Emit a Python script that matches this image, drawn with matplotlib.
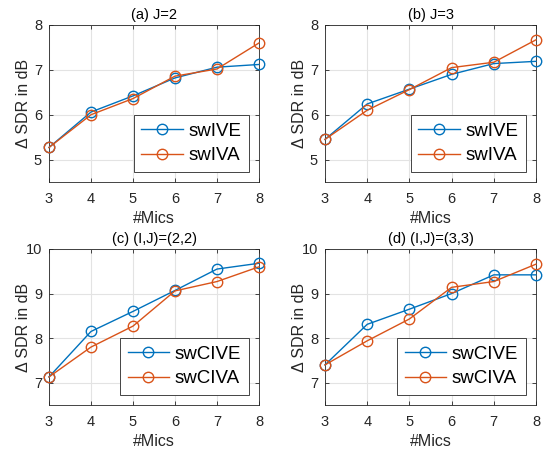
import matplotlib
matplotlib.use("Agg")
import matplotlib.pyplot as plt

plt.rcParams['font.family'] = ['Liberation Sans', 'DejaVu Sans']

mics = [3, 4, 5, 6, 7, 8]

# (a) J=2
a_swIVE = [5.27, 6.06, 6.42, 6.82, 7.06, 7.12]
a_swIVA = [5.27, 6.00, 6.36, 6.86, 7.02, 7.60]
# (b) J=3
b_swIVE = [5.45, 6.24, 6.57, 6.90, 7.14, 7.19]
b_swIVA = [5.45, 6.10, 6.56, 7.05, 7.17, 7.67]
# (c) (I,J)=(2,2)
c_swCIVE = [7.13, 8.15, 8.60, 9.07, 9.55, 9.68]
c_swCIVA = [7.13, 7.80, 8.27, 9.06, 9.27, 9.60]
# (d) (I,J)=(3,3)
d_swCIVE = [7.40, 8.31, 8.65, 9.00, 9.42, 9.42]
d_swCIVA = [7.40, 7.94, 8.43, 9.14, 9.27, 9.66]

panels = [
    ("(a) J=2", a_swIVE, a_swIVA, ["swIVE", "swIVA"], (4.5, 8), [5, 6, 7, 8]),
    ("(b) J=3", b_swIVE, b_swIVA, ["swIVE", "swIVA"], (4.5, 8), [5, 6, 7, 8]),
    ("(c) (I,J)=(2,2)", c_swCIVE, c_swCIVA, ["swCIVE", "swCIVA"], (6.5, 10), [7, 8, 9, 10]),
    ("(d) (I,J)=(3,3)", d_swCIVE, d_swCIVA, ["swCIVE", "swCIVA"], (6.5, 10), [7, 8, 9, 10]),
]

# axes boxes in pixels (left, top, right, bottom)
boxes = [(49, 25, 259, 182), (325, 25, 536, 182),
         (49, 249, 259, 405), (325, 249, 536, 405)]

W, H = 545, 451
fig = plt.figure(figsize=(W / 100, H / 100), dpi=100)

blue = '#0072BD'
orange = '#D95319'

for (title, y1, y2, labels, ylim, yticks), (l, t, r, b) in zip(panels, boxes):
    ax = fig.add_axes([l / W, 1 - b / H, (r - l) / W, (b - t) / H])
    ax.plot(mics, y1, '-o', color=blue, lw=1.0, ms=7.5, mfc='none', mew=1.0,
            label=labels[0], clip_on=False, zorder=3)
    ax.plot(mics, y2, '-o', color=orange, lw=1.0, ms=7.5, mfc='none', mew=1.0,
            label=labels[1], clip_on=False, zorder=3)
    ax.set_xlim(3, 8)
    ax.set_ylim(*ylim)
    ax.set_xticks(mics)
    ax.set_yticks(yticks)
    ax.grid(True, color='#e3e3e3', lw=0.8)
    ax.set_axisbelow(True)
    ax.tick_params(direction='in', top=True, right=True, labelsize=10.5, colors='#262626',
                   length=3, width=0.6)
    ax.tick_params(axis='x', pad=7)
    ax.tick_params(axis='y', pad=5)
    for s in ax.spines.values():
        s.set_color('#262626')
        s.set_linewidth(0.6)
    ax.set_title(title, fontsize=10.5, color='#000000', pad=4)
    ax.set_xlabel('#Mics', fontsize=11.5, color='#262626', labelpad=4)
    ax.set_ylabel('Δ SDR in dB', fontsize=11.5, color='#262626')
    ax.yaxis.set_label_coords(-0.085, 0.5)
    leg = ax.legend(loc='lower right', fontsize=13.5, fancybox=False, framealpha=1,
                    edgecolor='#262626', handlelength=2.2, borderpad=0.4,
                    labelspacing=0.4, handletextpad=0.3, borderaxespad=0.55)
    leg.get_frame().set_linewidth(0.6)
    leg.set_zorder(5)

fig.savefig('out.png', dpi=100)
